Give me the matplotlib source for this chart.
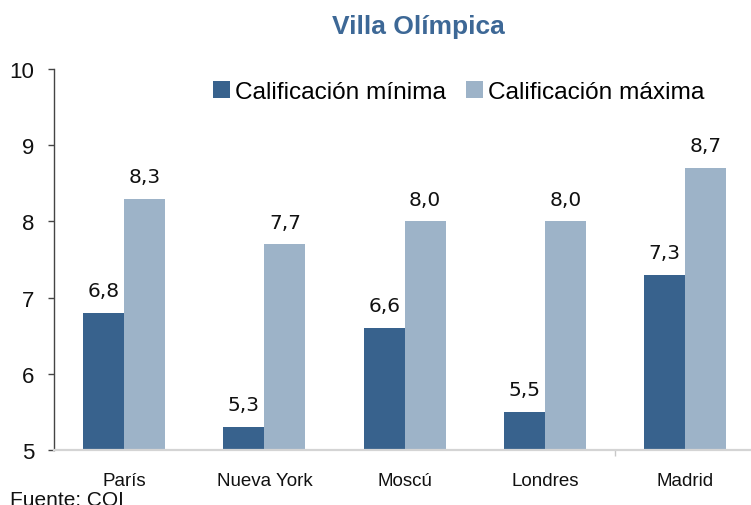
import matplotlib
matplotlib.use("Agg")
import matplotlib.pyplot as plt
import numpy as np

categories = ["París", "Nueva York", "Moscú", "Londres", "Madrid"]
calif_min = [6.8, 5.3, 6.6, 5.5, 7.3]
calif_max = [8.3, 7.7, 8.0, 8.0, 8.7]
series_names = ["Calificación mínima", "Calificación máxima"]
yticks = [5, 6, 7, 8, 9, 10]
title = "Villa Olímpica"
source = "Fuente: COI"

DARK = "#38628d"
LIGHT = "#9db3c8"
TITLE_C = "#3d6896"

plt.rcParams['font.family'] = ['Liberation Sans', 'DejaVu Sans']

W, H = 751, 506
fig = plt.figure(figsize=(W / 100, H / 100), dpi=100)
ax = fig.add_axes([54 / W, (H - 451) / H, 701.5 / W, (451 - 70) / H])

x = np.arange(len(categories))
bw = 0.292
b1 = ax.bar(x - bw / 2, calif_min, bw, bottom=0, color=DARK, label=series_names[0], zorder=2)
b2 = ax.bar(x + bw / 2, calif_max, bw, bottom=0, color=LIGHT, label=series_names[1], zorder=2)

for bars, vals in ((b1, calif_min), (b2, calif_max)):
    for rect, v in zip(bars, vals):
        ax.annotate(f"{v:.1f}".replace(".", ","),
                    (rect.get_x() + rect.get_width() / 2, v),
                    xytext=(0, 12), textcoords="offset points",
                    ha="center", va="baseline", fontsize=14.5,
                    family="DejaVu Sans", color="#111111")

ax.set_xlim(-0.5, 4.5)
ax.set_ylim(5, 10)
ax.set_yticks(yticks)
ax.set_yticklabels([str(t) for t in yticks])
ax.set_xticks(x)
ax.set_xticklabels(categories)
ax.set_xticks([3.5], minor=True)

for s in ("top", "right"):
    ax.spines[s].set_visible(False)
ax.spines["left"].set_color("#444444")
ax.spines["left"].set_linewidth(1.0)
ax.spines["bottom"].set_color("#d4d4d4")
ax.spines["bottom"].set_linewidth(1.6)

ax.tick_params(axis="y", direction="out", length=4, width=1, color="#444444",
               labelsize=16, pad=10, labelcolor="#111111")
ax.tick_params(axis="x", which="major", length=0, labelsize=13.5, pad=16,
               labelcolor="#111111")
ax.tick_params(axis="x", which="minor", length=4.5, width=1, color="#c8c8c8")

fig.text(418 / W, (H - 34) / H, title, ha="center", va="baseline",
         fontsize=19, fontweight="bold", color=TITLE_C)

fig.legend(handles=[b1, b2], labels=series_names, loc="center left",
           bbox_to_anchor=(213 / W, (H - 93) / H), ncol=2, frameon=False,
           fontsize=17.6, handlelength=0.68, handleheight=0.66,
           handletextpad=0.2, columnspacing=0.85, borderpad=0, borderaxespad=0)

fig.text(10 / W, (H - 506) / H, source, ha="left", va="baseline",
         fontsize=15, color="#111111")

fig.savefig("out.png", dpi=100)
